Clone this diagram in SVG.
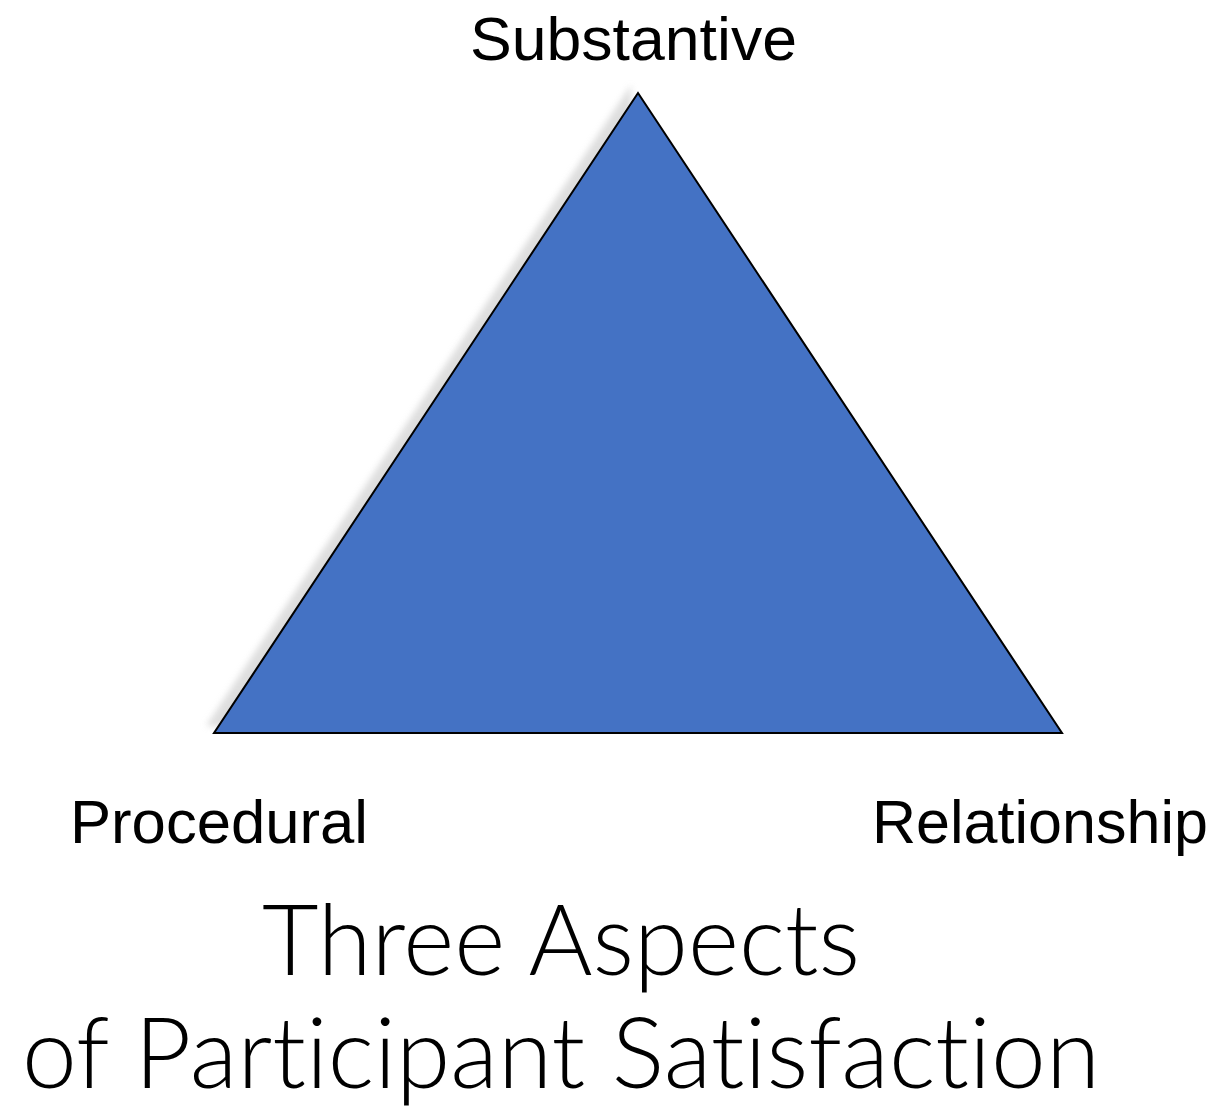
<svg xmlns="http://www.w3.org/2000/svg" width="1217" height="1107" viewBox="0 0 1217 1107">
<style>
.lbl{font-family:"Liberation Sans",Arial,sans-serif;font-size:62px;fill:#000}
.title{font-family:Lato,"Open Sans",sans-serif;font-weight:300;font-size:98px;fill:#000;font-variant-ligatures:none;font-feature-settings:"liga" 0,"clig" 0}
</style>
<defs>
<filter id="sh" x="-10%" y="-10%" width="120%" height="120%"><feGaussianBlur stdDeviation="3"/></filter>
</defs>
<rect width="1217" height="1107" fill="#fff"/>
<g id="triangle">
<polygon points="631,85 206,726 640,726" fill="#d0d0d0" opacity="0.7" filter="url(#sh)"/>
<polygon points="638,93 214,733 1062,733" fill="#4472C4" stroke="#000" stroke-width="2" stroke-linejoin="miter"/>
</g>
<g id="label-substantive"><text class="lbl" x="470" y="60" textLength="327" lengthAdjust="spacingAndGlyphs">Substantive</text></g>
<g id="label-procedural"><text class="lbl" x="70" y="843" textLength="298" lengthAdjust="spacingAndGlyphs">Procedural</text></g>
<g id="label-relationship"><text class="lbl" x="872" y="843" textLength="336" lengthAdjust="spacingAndGlyphs">Relationship</text></g>
<g id="title">
<text class="title" x="262" y="975" textLength="598" lengthAdjust="spacingAndGlyphs">Three Aspects</text>
<text class="title" x="22" y="1088" textLength="1078" lengthAdjust="spacingAndGlyphs">of Participant Satisfaction</text>
</g>
<g id="connectors"/>
</svg>
